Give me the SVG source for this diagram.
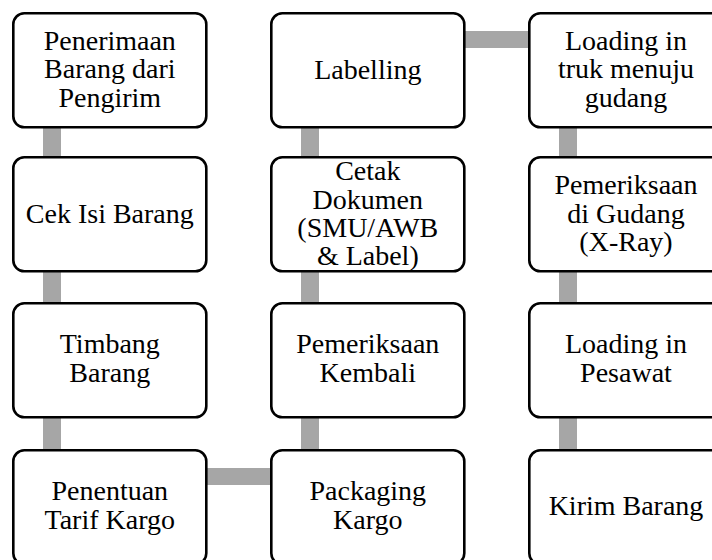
<svg xmlns="http://www.w3.org/2000/svg" width="712" height="560" viewBox="0 0 712 560">
<style>
.box{fill:#fff;stroke:#000;stroke-width:2.6}
.c{fill:#A6A6A6}
text{font-size:28px;fill:#000;text-anchor:middle}
</style>
<rect width="712" height="560" fill="#fff"/>
<g id="connectors">
<rect class="c" x="43" y="120" width="18" height="45"/>
<rect class="c" x="43" y="265" width="18" height="46"/>
<rect class="c" x="43" y="411" width="18" height="46"/>
<rect class="c" x="200" y="468" width="78" height="17"/>
<rect class="c" x="301" y="411" width="18" height="46"/>
<rect class="c" x="301" y="265" width="18" height="46"/>
<rect class="c" x="301" y="120" width="18" height="45"/>
<rect class="c" x="458" y="31" width="78" height="17"/>
<rect class="c" x="559" y="120" width="18" height="45"/>
<rect class="c" x="559" y="265" width="18" height="46"/>
<rect class="c" x="559" y="411" width="18" height="46"/>
</g>
<g font-family="'Liberation Serif', 'DejaVu Serif', serif">
<g id="n1"><rect class="box" x="13.3" y="13.3" width="193" height="114" rx="11"/>
<text x="109.8" y="49.5">Penerimaan</text><text x="109.8" y="78">Barang dari</text><text x="109.8" y="106.5">Pengirim</text></g>
<g id="n2"><rect class="box" x="13.3" y="157.3" width="193" height="114" rx="11"/>
<text x="109.8" y="223">Cek Isi Barang</text></g>
<g id="n3"><rect class="box" x="13.3" y="303.3" width="193" height="114" rx="11"/>
<text x="109.8" y="353">Timbang</text><text x="109.8" y="381.5">Barang</text></g>
<g id="n4"><rect class="box" x="13.3" y="450.3" width="193" height="114" rx="11"/>
<text x="109.8" y="500">Penentuan</text><text x="109.8" y="528.5">Tarif Kargo</text></g>
<g id="n5"><rect class="box" x="271.3" y="450.3" width="193" height="114" rx="11"/>
<text x="367.8" y="500">Packaging</text><text x="367.8" y="528.5">Kargo</text></g>
<g id="n6"><rect class="box" x="271.3" y="303.3" width="193" height="114" rx="11"/>
<text x="367.8" y="353">Pemeriksaan</text><text x="367.8" y="381.5">Kembali</text></g>
<g id="n7"><rect class="box" x="271.3" y="157.3" width="193" height="114" rx="11"/>
<text x="367.8" y="180">Cetak</text><text x="367.8" y="208.5">Dokumen</text><text x="367.8" y="237">(SMU/AWB</text><text x="367.8" y="265">&amp; Label)</text></g>
<g id="n8"><rect class="box" x="271.3" y="13.3" width="193" height="114" rx="11"/>
<text x="367.8" y="79">Labelling</text></g>
<g id="n9"><rect class="box" x="529.3" y="13.3" width="193" height="114" rx="11"/>
<text x="626" y="49.5">Loading in</text><text x="626" y="78">truk menuju</text><text x="626" y="106.5">gudang</text></g>
<g id="n10"><rect class="box" x="529.3" y="157.3" width="193" height="114" rx="11"/>
<text x="626" y="194">Pemeriksaan</text><text x="626" y="222.5">di Gudang</text><text x="626" y="251">(X-Ray)</text></g>
<g id="n11"><rect class="box" x="529.3" y="303.3" width="193" height="114" rx="11"/>
<text x="626" y="353">Loading in</text><text x="626" y="381.5">Pesawat</text></g>
<g id="n12"><rect class="box" x="529.3" y="450.3" width="193" height="114" rx="11"/>
<text x="626" y="515">Kirim Barang</text></g>
</g>
</svg>
